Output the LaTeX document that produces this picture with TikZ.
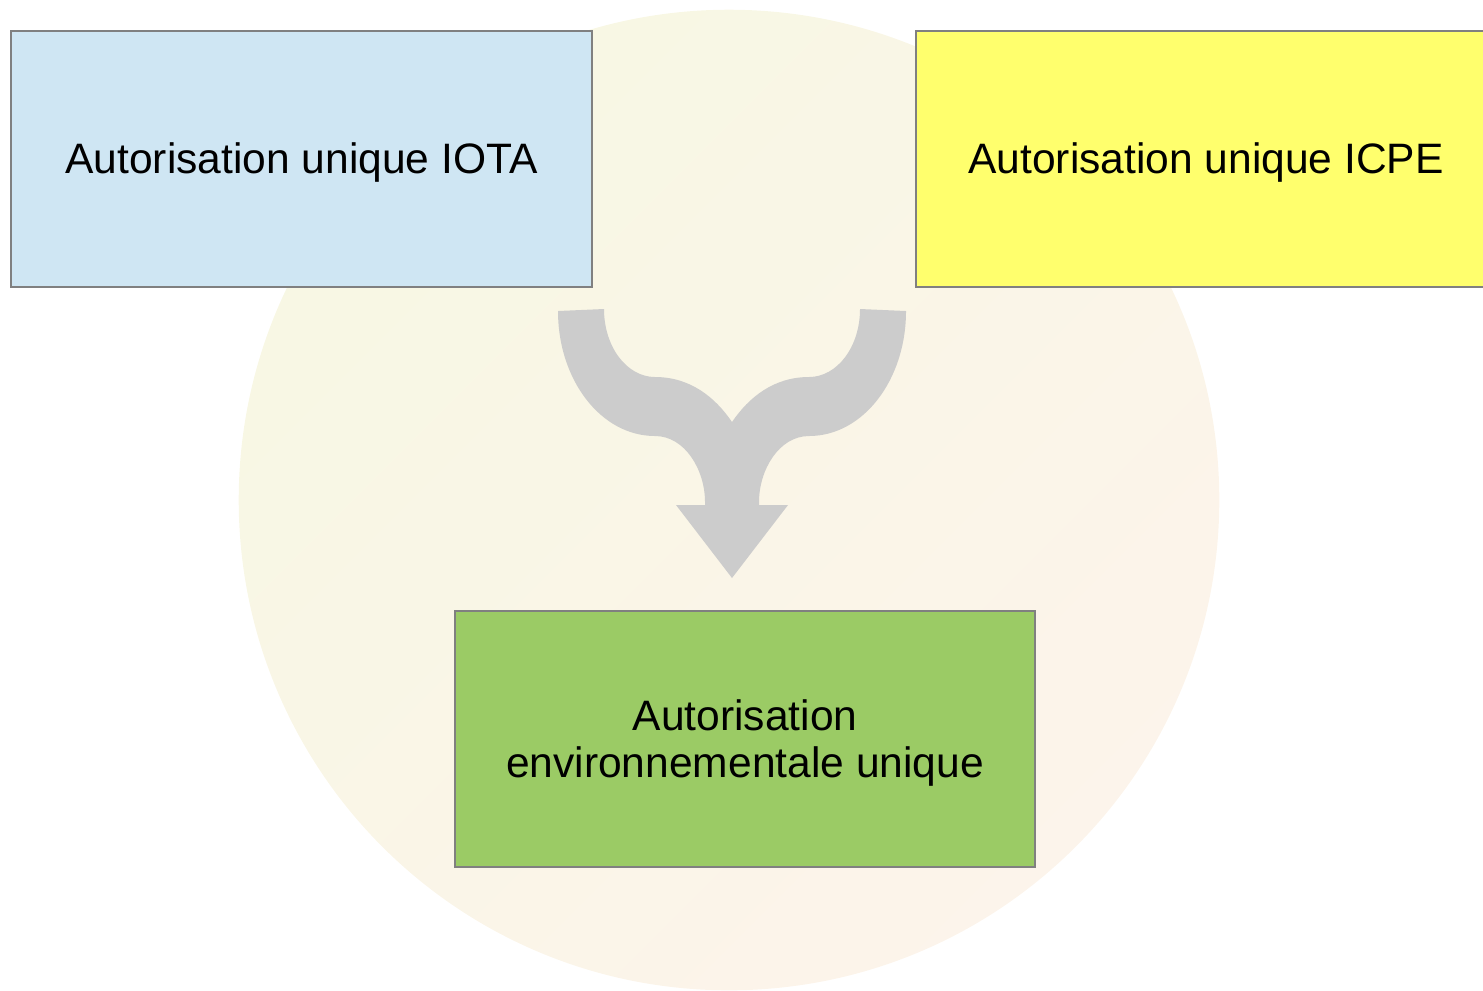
\documentclass[tikz,border=0pt]{standalone}
\usepackage{fontspec}
\setmainfont{Liberation Sans}
\begin{document}
\begin{tikzpicture}[x=0.01cm,y=-0.01cm,
  box/.style={rectangle, draw=black!50, line width=0.5pt,
    minimum width=5.80cm, minimum height=2.56cm, inner sep=0pt},
  boxtext/.style={align=center, inner sep=0pt, yshift=-1.1pt,
    font=\fontsize{12.1}{13.4}\selectfont},
  merger/.style={fill=black!20, draw=none}]
\useasboundingbox (0,0) rectangle (1483,990);
\clip (0,0) rectangle (1483,990);

% soft background disc
\shade[top color=yellow!8!white!97!black, bottom color=orange!7!white!99!black, shading angle=45]
  (729,500) circle[radius=4.9cm];

% source and result boxes
\node[box, fill={rgb,255:red,207;green,230;blue,243},
  label={[boxtext]center:Autorisation unique IOTA}] (iota) at (301.5,159) {};
\node[box, fill={rgb,255:red,255;green,255;blue,109},
  label={[boxtext]center:Autorisation unique ICPE}] (icpe) at (1206,159) {};
\node[box, fill={rgb,255:red,155;green,203;blue,101},
  label={[boxtext]center:Autorisation\\environnementale unique}] (aeu) at (745,739) {};

% merging arrow
\fill[merger]
  (558,311) -- (604,309)
  .. controls (604,347) and (627,377) .. (655,377)
  .. controls (690,377) and (715,397) .. (732,422)
  .. controls (749,397) and (774,377) .. (809,377)
  .. controls (837,377) and (860,347) .. (860,309)
  -- (906,311)
  .. controls (906,380) and (863,436) .. (809,436)
  .. controls (779,436) and (759,470) .. (759,502)
  -- (759,505) -- (788,505) -- (732,578) -- (676,505) -- (705,505) -- (705,502)
  .. controls (705,470) and (685,436) .. (655,436)
  .. controls (601,436) and (558,380) .. (558,311) -- cycle;
\end{tikzpicture}
\end{document}
